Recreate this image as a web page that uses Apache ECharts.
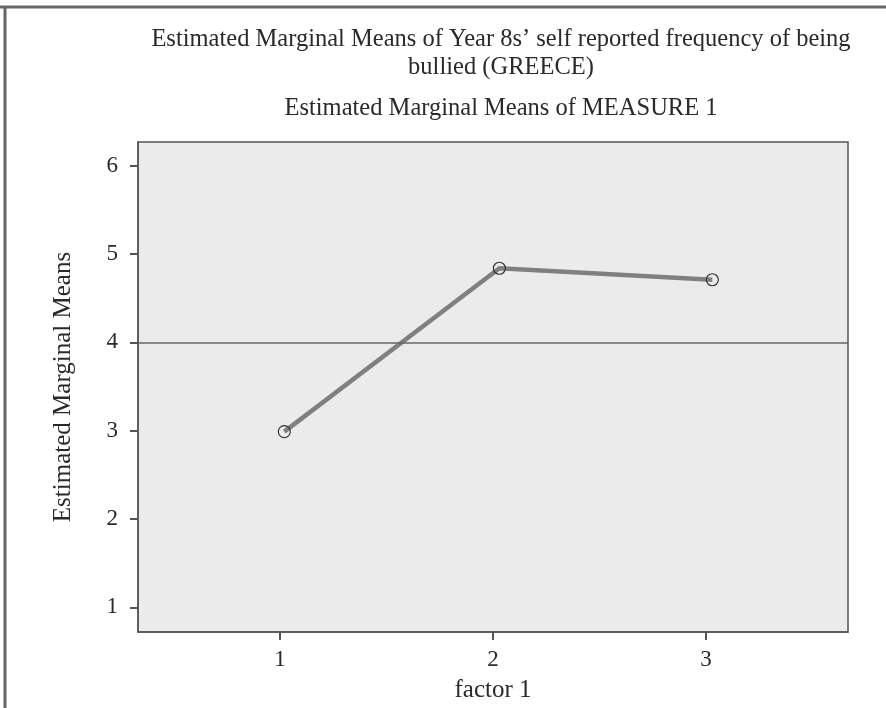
<!DOCTYPE html>
<html>
<head>
<meta charset="utf-8">
<script src="https://cdn.jsdelivr.net/npm/echarts@6/dist/echarts.min.js"></script>
<style>
  html, body { margin: 0; padding: 0; background: #fff; }
  #chart { width: 886px; height: 708px; }
</style>
</head>
<body>
<div id="chart"></div>
<script>
// factor levels and the estimated means
const factorLevels = [1.02, 2.03, 3.03];
const meanValues = [2.99, 4.84, 4.71];
const xTicks = [1, 2, 3];
const yTicks = [1, 2, 3, 4, 5, 6];
const refLine = 4;

const FONT = '"Liberation Serif", "DejaVu Serif", serif';
const INK = '#2a2a2a';
const AXIS = '#555';

const chart = echarts.init(document.getElementById('chart'));

const titleStyle = { fontFamily: FONT, fontSize: 24.5, fontWeight: 'normal', color: INK };

const option = {
    backgroundColor: '#fff',
    animation: false,
    title: [
        {
            text: 'Estimated Marginal Means of Year 8s\u2019 self reported frequency of being',
            left: 496, top: 22, textAlign: 'center', textStyle: titleStyle
        },
        {
            text: 'bullied (GREECE)',
            left: 496, top: 50, textAlign: 'center', textStyle: titleStyle
        },
        {
            text: 'Estimated Marginal Means of MEASURE 1',
            left: 496, top: 91, textAlign: 'center', textStyle: titleStyle
        }
    ],
    graphic: [
        { type: 'line', shape: { x1: 0, y1: 7, x2: 886, y2: 7 }, style: { stroke: '#666', lineWidth: 3 } },
        { type: 'line', shape: { x1: 5, y1: 7, x2: 5, y2: 708 }, style: { stroke: '#666', lineWidth: 3 } },
        {
            type: 'text', x: 63, y: 387, rotation: Math.PI / 2,
            style: {
                text: 'Estimated Marginal Means', fill: INK,
                font: '25px ' + FONT, textAlign: 'center', textVerticalAlign: 'middle'
            }
        }
    ],
    grid: {
        left: 138, top: 142, right: 38, bottom: 75,
        show: true, backgroundColor: '#ebebeb', borderColor: AXIS, borderWidth: 1.5
    },
    xAxis: {
        type: 'value',
        min: 0.333, max: 3.667,
        name: 'factor 1', nameLocation: 'middle', nameGap: 46,
        nameTextStyle: { fontFamily: FONT, fontSize: 25, color: INK },
        axisLine: { show: true, lineStyle: { color: AXIS, width: 1.5 } },
        axisTick: { show: true, length: 8, customValues: xTicks, lineStyle: { color: AXIS, width: 2 } },
        axisLabel: { customValues: xTicks, margin: 16, fontFamily: FONT, fontSize: 23, color: INK },
        splitLine: { show: false }
    },
    yAxis: {
        type: 'value',
        min: 0.72, max: 6.27,
        axisLine: { show: true, lineStyle: { color: AXIS, width: 1.5 } },
        axisTick: { show: true, length: 8, customValues: yTicks, lineStyle: { color: AXIS, width: 2 } },
        axisLabel: { customValues: yTicks, margin: 20, fontFamily: FONT, fontSize: 23, color: INK },
        splitLine: { show: false }
    },
    series: [
        {
            type: 'line',
            data: factorLevels.map((x, i) => [x, meanValues[i]]),
            symbol: 'circle',
            symbolSize: 12,
            lineStyle: { color: '#808080', width: 4.5 },
            itemStyle: { color: 'rgba(0,0,0,0)', borderColor: '#333', borderWidth: 1.2 },
            markLine: {
                silent: true,
                symbol: 'none',
                label: { show: false },
                lineStyle: { color: '#666', width: 1.5, type: 'solid' },
                data: [{ yAxis: refLine }]
            },
            z: 3
        }
    ]
};

chart.setOption(option);
</script>
</body>
</html>
